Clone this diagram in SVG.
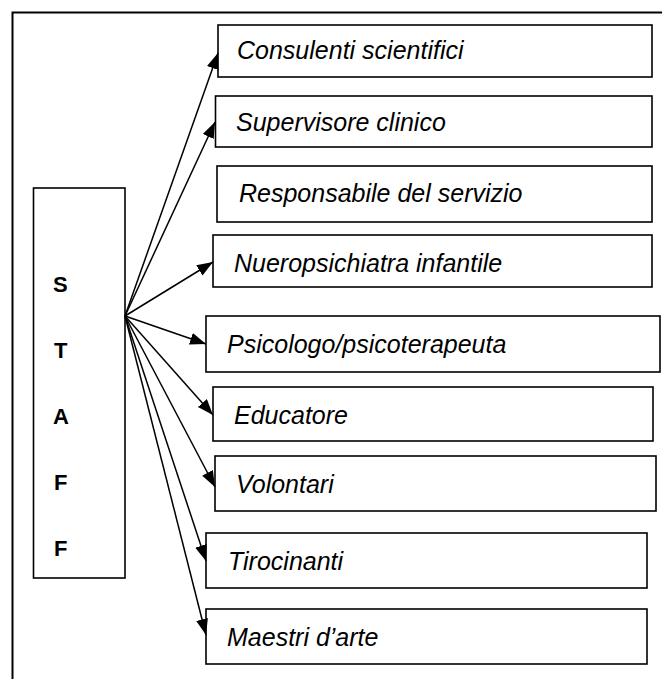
<svg xmlns="http://www.w3.org/2000/svg" width="662" height="679" viewBox="0 0 662 679">
<style>
.box{fill:#fff;stroke:#000;stroke-width:1.6}
.lbl{font-family:"Liberation Sans",Arial,sans-serif;font-style:italic;font-size:25px;fill:#000}
.st{font-family:"Liberation Sans",Arial,sans-serif;font-weight:bold;font-size:22px;fill:#000}
.conn{stroke:#000;stroke-width:1.5;fill:none;marker-end:url(#ah)}
</style>
<defs>
<marker id="ah" markerUnits="userSpaceOnUse" markerWidth="17" markerHeight="13" refX="16" refY="6" orient="auto">
<path d="M0,0 L16,6 L0,12 z" fill="#000"/>
</marker>
</defs>
<rect width="662" height="679" fill="#fff"/>
<path d="M12.5,679 V12.5 H662" fill="none" stroke="#000" stroke-width="2"/>
<g id="staff">
<rect class="box" x="33.5" y="188" width="91.5" height="390"/>
<text class="st" x="53" y="292">S</text>
<text class="st" x="54" y="358">T</text>
<text class="st" x="53" y="424">A</text>
<text class="st" x="54" y="490">F</text>
<text class="st" x="54" y="556">F</text>
</g>
<g id="consulenti"><rect class="box" x="218" y="25" width="434" height="52"/><text class="lbl" x="237" y="59">Consulenti scientifici</text></g>
<g id="supervisore"><rect class="box" x="215.5" y="96" width="436.5" height="51"/><text class="lbl" x="236" y="131">Supervisore clinico</text></g>
<g id="responsabile"><rect class="box" x="217" y="166" width="435" height="56"/><text class="lbl" x="239" y="202">Responsabile del servizio</text></g>
<g id="nueropsichiatra"><rect class="box" x="213" y="235" width="439" height="52"/><text class="lbl" x="234" y="272">Nueropsichiatra infantile</text></g>
<g id="psicologo"><rect class="box" x="206" y="316" width="454" height="56"/><text class="lbl" x="227" y="353">Psicologo/psicoterapeuta</text></g>
<g id="educatore"><rect class="box" x="213" y="387" width="440" height="54"/><text class="lbl" x="234" y="424">Educatore</text></g>
<g id="volontari"><rect class="box" x="215" y="456" width="441" height="55"/><text class="lbl" x="236" y="493">Volontari</text></g>
<g id="tirocinanti"><rect class="box" x="206" y="533" width="441" height="55"/><text class="lbl" x="228" y="570">Tirocinanti</text></g>
<g id="maestri"><rect class="box" x="206" y="609" width="441" height="55"/><text class="lbl" x="227" y="646">Maestri d’arte</text></g>
<g id="connectors">
<line class="conn" x1="125" y1="316" x2="218" y2="53"/>
<line class="conn" x1="125" y1="316" x2="215" y2="122"/>
<line class="conn" x1="125" y1="316" x2="213" y2="262"/>
<line class="conn" x1="125" y1="316" x2="206" y2="344"/>
<line class="conn" x1="125" y1="316" x2="213" y2="415"/>
<line class="conn" x1="125" y1="316" x2="215" y2="487"/>
<line class="conn" x1="125" y1="316" x2="206" y2="561"/>
<line class="conn" x1="125" y1="316" x2="206" y2="635"/>
</g>
</svg>
